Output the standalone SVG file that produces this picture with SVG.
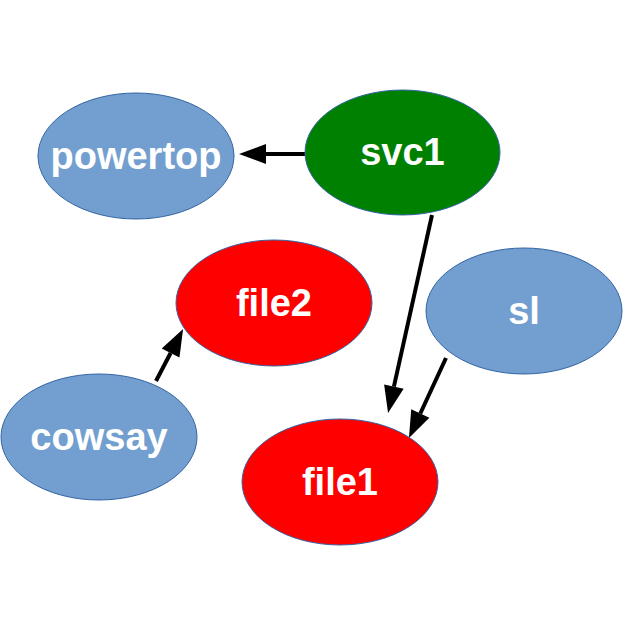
<svg xmlns="http://www.w3.org/2000/svg" width="623" height="634" viewBox="0 0 623 634">
<style>
.node ellipse{stroke:#3465a4;stroke-width:1}
.blue{fill:#729fcf}.green{fill:#008000}.red{fill:#ff0000}
.node text{font-family:"Liberation Sans",Arial,sans-serif;font-weight:bold;font-size:38px;fill:#ffffff;text-anchor:middle}
.edge{stroke:#000;stroke-width:4;fill:none;marker-end:url(#arr)}
</style>
<defs>
<marker id="arr" markerUnits="userSpaceOnUse" markerWidth="28" markerHeight="20" refX="0" refY="10" orient="auto" overflow="visible">
<path d="M0,0 L27,10 L0,20 Z" fill="#000"/>
</marker>
</defs>
<rect width="623" height="634" fill="#fff"/>
<g id="connectors">
<path class="edge" d="M305,154 L266,154"/>
<path class="edge" d="M432,215 L393.9,386.6"/>
<path class="edge" d="M446,358 L420.3,413.5"/>
<path class="edge" d="M156,381 L170.6,353"/>
</g>
<g id="powertop" class="node"><ellipse class="blue" cx="136" cy="156" rx="98" ry="63"/><text x="136" y="169">powertop</text></g>
<g id="svc1" class="node"><ellipse class="green" cx="402.5" cy="152.5" rx="97.5" ry="62.5"/><text x="402.5" y="165">svc1</text></g>
<g id="file2" class="node"><ellipse class="red" cx="274" cy="303" rx="98" ry="63"/><text x="274" y="316">file2</text></g>
<g id="sl" class="node"><ellipse class="blue" cx="524" cy="311" rx="98" ry="63"/><text x="524" y="324">sl</text></g>
<g id="cowsay" class="node"><ellipse class="blue" cx="99" cy="437" rx="98" ry="63"/><text x="99" y="450">cowsay</text></g>
<g id="file1" class="node"><ellipse class="red" cx="340" cy="482" rx="98" ry="63"/><text x="340" y="495">file1</text></g>
</svg>
